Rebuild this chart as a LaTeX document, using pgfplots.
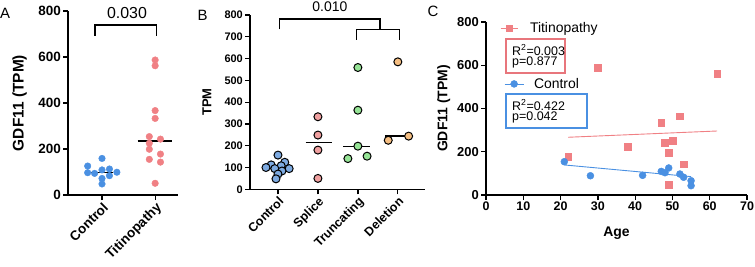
\documentclass[border=0pt]{standalone}
\usepackage{fontspec}
\setmainfont{Liberation Sans}
\usepackage{pgfplots}
\pgfplotsset{compat=1.18}
\definecolor{cblue}{RGB}{74,144,226}
\definecolor{cred}{RGB}{240,128,132}
\definecolor{bblue}{RGB}{125,170,225}
\definecolor{bpink}{RGB}{240,160,160}
\definecolor{bgreen}{RGB}{150,228,150}
\definecolor{borange}{RGB}{245,190,130}
\definecolor{boxred}{RGB}{232,118,124}
\definecolor{boxblue}{RGB}{74,144,226}
\newcommand\fs[1]{\fontsize{#1}{#1}\selectfont}
\pgfplotsset{gp/.style={scale only axis, axis x line=bottom, axis y line=left,
  axis line style={-, line width=1.4bp, black}, tick align=outside, major tick length=5bp,
  tick style={line width=1.3bp, black}, minor tick num=0,
  /pgf/number format/assume math mode=true, clip=false, ymin=0, ymax=800}}
\begin{document}
\begin{tikzpicture}[x=1bp,y=1bp]
\path[use as bounding box] (0,0) rectangle (755,266);
% ---------------- A
\begin{axis}[gp, at={(68bp,71bp)}, anchor=south west, width=110bp, height=184bp,
  xmin=-0.64, xmax=1.43, xtick={0,1}, xticklabels={Control,Titinopathy},
  x tick label style={rotate=45, anchor=north east, font=\bfseries\fs{13.5}, inner sep=1bp},
  ytick={0,200,400,600,800}, y tick label style={font=\bfseries\fs{13.5}, inner sep=2bp},
  ylabel={GDF11 (TPM)}, ylabel style={font=\bfseries\fs{15.5}, at={(axis description cs:-0.44,0.5)}, anchor=center}]
\addplot[only marks, mark=*, mark size=3.3bp, cblue, mark options={draw=none, fill=cblue}] coordinates {
(0,159) (-0.27,126) (-0.27,97) (-0.14,94) (0,109) (0.14,113) (0.28,99) (0.14,84) (0,72) (0,48)};
\addplot[only marks, mark=*, mark size=3.3bp, cred, mark options={draw=none, fill=cred}] coordinates {
(1,587) (1,562) (1,367) (1,333) (0.89,254) (1.1,243) (0.89,225) (0.89,199) (0.89,155) (1.1,178) (1.1,143) (1,51)};
\addplot[black, line width=1.5bp] coordinates {(-0.2,98) (0.2,98)};
\addplot[black, line width=1.5bp] coordinates {(0.67,234) (1.32,234)};
\draw[line width=1.3bp] (axis cs:-0.13,693) -- (axis cs:-0.13,739) -- (axis cs:1.02,739) -- (axis cs:1.02,693);
\node[font=\fs{16}] at (axis cs:0.47,793) {0.030};
\end{axis}
% ---------------- B
\begin{axis}[gp, at={(250bp,76.7bp)}, anchor=south west, width=175bp, height=174.3bp,
  xmin=-0.7, xmax=3.68, xtick={0,1,2,3}, xticklabels={Control,Splice,Truncating,Deletion},
  x tick label style={rotate=45, anchor=north east, font=\bfseries\fs{12.5}, inner sep=1bp},
  ytick={0,100,200,300,400,500,600,700,800}, y tick label style={font=\bfseries\fs{11}, inner sep=2bp},
  ylabel={TPM}, ylabel style={font=\bfseries\fs{13}, at={(axis description cs:-0.246,0.5)}, anchor=center}]
\addplot[black, line width=1.3bp] coordinates {(-0.3,101.5) (0.3,101.5)};
\addplot[black, line width=1.3bp] coordinates {(0.69,214.5) (1.36,214.5)};
\addplot[black, line width=1.3bp] coordinates {(1.63,198) (2.3,198)};
\addplot[black, line width=1.3bp] coordinates {(2.68,244) (3.18,244)};
\addplot[only marks, mark=*, mark size=4bp, mark options={draw=black, fill=bblue, line width=1bp}] coordinates {
(0,157) (0.17,124) (-0.17,112) (0.08,108) (-0.3,100) (0.28,95) (-0.08,95) (0.1,84) (0,70) (-0.05,48)};
\addplot[only marks, mark=*, mark size=4bp, mark options={draw=black, fill=bpink, line width=1bp}] coordinates {
(1,333) (1,249) (1,180) (1,50)};
\addplot[only marks, mark=*, mark size=4bp, mark options={draw=black, fill=bgreen, line width=1bp}] coordinates {
(2,559) (2,363) (2,198) (1.75,141) (2.23,152)};
\addplot[only marks, mark=*, mark size=4bp, mark options={draw=black, fill=borange, line width=1bp}] coordinates {
(3,585) (2.76,225) (3.27,244)};
\draw[line width=1.3bp] (axis cs:0.03,734) -- (axis cs:0.03,782) -- (axis cs:2.55,782) -- (axis cs:2.55,734);
\draw[line width=1.3bp] (axis cs:1.97,686) -- (axis cs:1.97,734) -- (axis cs:3.05,734) -- (axis cs:3.05,686);
\node[font=\fs{14}] at (axis cs:1.3,837) {0.010};
\end{axis}
% ---------------- C
\begin{axis}[gp, at={(486bp,71bp)}, anchor=south west, width=261bp, height=173bp,
  xmin=0, xmax=70, xtick={0,10,...,70},
  x tick label style={font=\bfseries\fs{12.5}, inner sep=2bp},
  ytick={0,200,400,600,800}, y tick label style={font=\bfseries\fs{13}, inner sep=2bp},
  xlabel={Age}, xlabel style={font=\bfseries\fs{14}, at={(axis description cs:0.5,-0.22)}, anchor=center},
  ylabel={GDF11 (TPM)}, ylabel style={font=\bfseries\fs{14}, at={(axis description cs:-0.162,0.5)}, anchor=center},
  legend style={at={(axis description cs:0.0536,0.965)}, anchor=west, draw=none, fill=none,
    inner sep=0pt, nodes={inner sep=0pt}, column sep=12bp, font=\fs{14}},
  legend image code/.code={\draw[line width=0.8bp, cred] (0bp,0bp) -- (17bp,0bp); \draw[#1] plot coordinates {(8.5bp,0bp)};}]
\addplot[cred, line width=0.9bp, forget plot] coordinates {(22,267) (62,296)};
\addplot[only marks, mark=square*, mark size=3.3bp, cred, mark options={draw=none, fill=cred}] coordinates {
(22,177) (30,589) (38,223) (47,334) (48,242) (50,250) (49,196) (49,49) (52,365) (53,142) (62,560)};
\addlegendentry{Titinopathy}
\end{axis}
\begin{axis}[scale only axis, hide axis, clip=false, at={(486bp,71bp)}, anchor=south west, width=261bp, height=173bp,
  xmin=0, xmax=70, ymin=0, ymax=800,
  legend style={at={(axis description cs:0.069,0.642)}, anchor=west, draw=none, fill=none,
    inner sep=0pt, nodes={inner sep=0pt}, column sep=10bp, font=\fs{14}},
  legend image code/.code={\draw[line width=0.8bp, cblue] (0bp,0bp) -- (19bp,0bp); \draw[#1] plot coordinates {(9.5bp,0bp)};}]
\addplot[cblue, line width=0.9bp, forget plot] coordinates {(21,139) (55,85)};
\addplot[only marks, mark=*, mark size=3.5bp, cblue, mark options={draw=none, fill=cblue}] coordinates {
(21,154) (28,89) (42,91) (47,109) (48,103) (49,125) (52,97) (53,82) (55,66) (55,43)};
\addlegendentry{Control}
\end{axis}
% boxes
\draw[boxred, line width=2bp] (506,193) rectangle (565,227);
\node[anchor=west, inner sep=0pt, font=\fs{12.5}] at (512,216) {R\textsuperscript{2}=0.003};
\node[anchor=west, inner sep=0pt, font=\fs{12.5}] at (512,203.5) {p=0.877};
\draw[boxblue, line width=2bp] (506,138) rectangle (586.7,172);
\node[anchor=west, inner sep=0pt, font=\fs{12.5}] at (512,161) {R\textsuperscript{2}=0.422};
\node[anchor=west, inner sep=0pt, font=\fs{12.5}] at (512,148.5) {p=0.042};
% panel letters
\node[font=\fs{15}] at (5,253) {A};
\node[font=\fs{15}] at (202.5,251) {B};
\node[font=\fs{15}] at (433,255) {C};
\end{tikzpicture}
\end{document}
